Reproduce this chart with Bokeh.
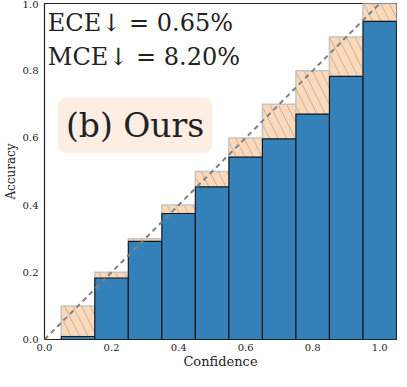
from bokeh.plotting import figure
from bokeh.models import Label, FixedTicker, Range1d, CustomJSTickFormatter
from bokeh.embed import file_html
from bokeh.resources import INLINE

bin_centers = [0.1, 0.2, 0.3, 0.4, 0.5, 0.6, 0.7, 0.8, 0.9, 1.0]
accuracy = [0.009, 0.183, 0.292, 0.375, 0.454, 0.543, 0.597, 0.671, 0.783, 0.947]
ticks = [0.0, 0.2, 0.4, 0.6, 0.8, 1.0]
ece_text = "ECE↓ = 0.65%"
mce_text = "MCE↓ = 8.20%"
title_text = "(b) Ours"

serif = "DejaVu Serif"

p = figure(width=397, height=371, output_backend="svg", toolbar_location=None,
           x_range=Range1d(0, 1.05), y_range=Range1d(0, 1.0))
p.min_border_left = 0
p.min_border_right = 1
p.min_border_top = 3
p.min_border_bottom = 0
p.grid.visible = False
p.outline_line_color = "#222222"
p.outline_line_width = 1.2
p.background_fill_color = "white"

# gap bars
p.vbar(x=bin_centers, width=0.1, bottom=accuracy, top=bin_centers,
       fill_color="#ffd9b7", line_color="#c4c4c4", line_width=1.5,
       hatch_pattern="\\", hatch_color="#b4b4b4", hatch_scale=17, hatch_weight=1)
# accuracy bars
p.vbar(x=bin_centers, width=0.1, bottom=0, top=accuracy,
       fill_color="#3480b9", line_color="#1a1a1a", line_width=1.2)
# diagonal
p.line(x=[0, 1.05], y=[0, 1.05], line_color="#808080", line_width=2, line_dash="5 4")

fmt = CustomJSTickFormatter(code="return tick.toFixed(1);")
for ax in (p.xaxis, p.yaxis):
    ax.ticker = FixedTicker(ticks=ticks)
    ax.formatter = fmt
    ax.major_label_text_font = serif
    ax.major_label_text_font_size = "10px"
    ax.major_label_text_color = "#222222"
    ax.axis_label_text_font = serif
    ax.axis_label_text_font_style = "normal"
    ax.axis_label_text_color = "#222222"
    ax.major_tick_line_color = None
    ax.minor_tick_line_color = None
    ax.major_tick_in = 0
    ax.major_tick_out = 0
    ax.minor_tick_in = 0
    ax.minor_tick_out = 0
    ax.axis_line_color = None

p.xaxis.major_label_standoff = 4
p.yaxis.major_label_standoff = 6
p.xaxis.axis_label = "Confidence"
p.xaxis.axis_label_text_font_size = "13px"
p.xaxis.axis_label_standoff = 0
p.yaxis.axis_label = "Accuracy"
p.yaxis.axis_label_text_font_size = "12px"
p.yaxis.axis_label_standoff = 2

p.add_layout(Label(x=0.01, y=0.985, text=ece_text, text_font=serif, text_font_size="24px",
                   text_color="#222222", text_baseline="top", text_align="left"))
p.add_layout(Label(x=0.01, y=0.883, text=mce_text, text_font=serif, text_font_size="24px",
                   text_color="#222222", text_baseline="top", text_align="left"))
p.add_layout(Label(x=0.04, y=0.637, text=title_text, text_font=serif, text_font_size="33px",
                   text_color="#222222", text_baseline="middle", text_align="left",
                   background_fill_color="#fdeee4", background_fill_alpha=1.0,
                   padding=8, border_radius=8))

open("out.html", "w").write(file_html(p, INLINE))
